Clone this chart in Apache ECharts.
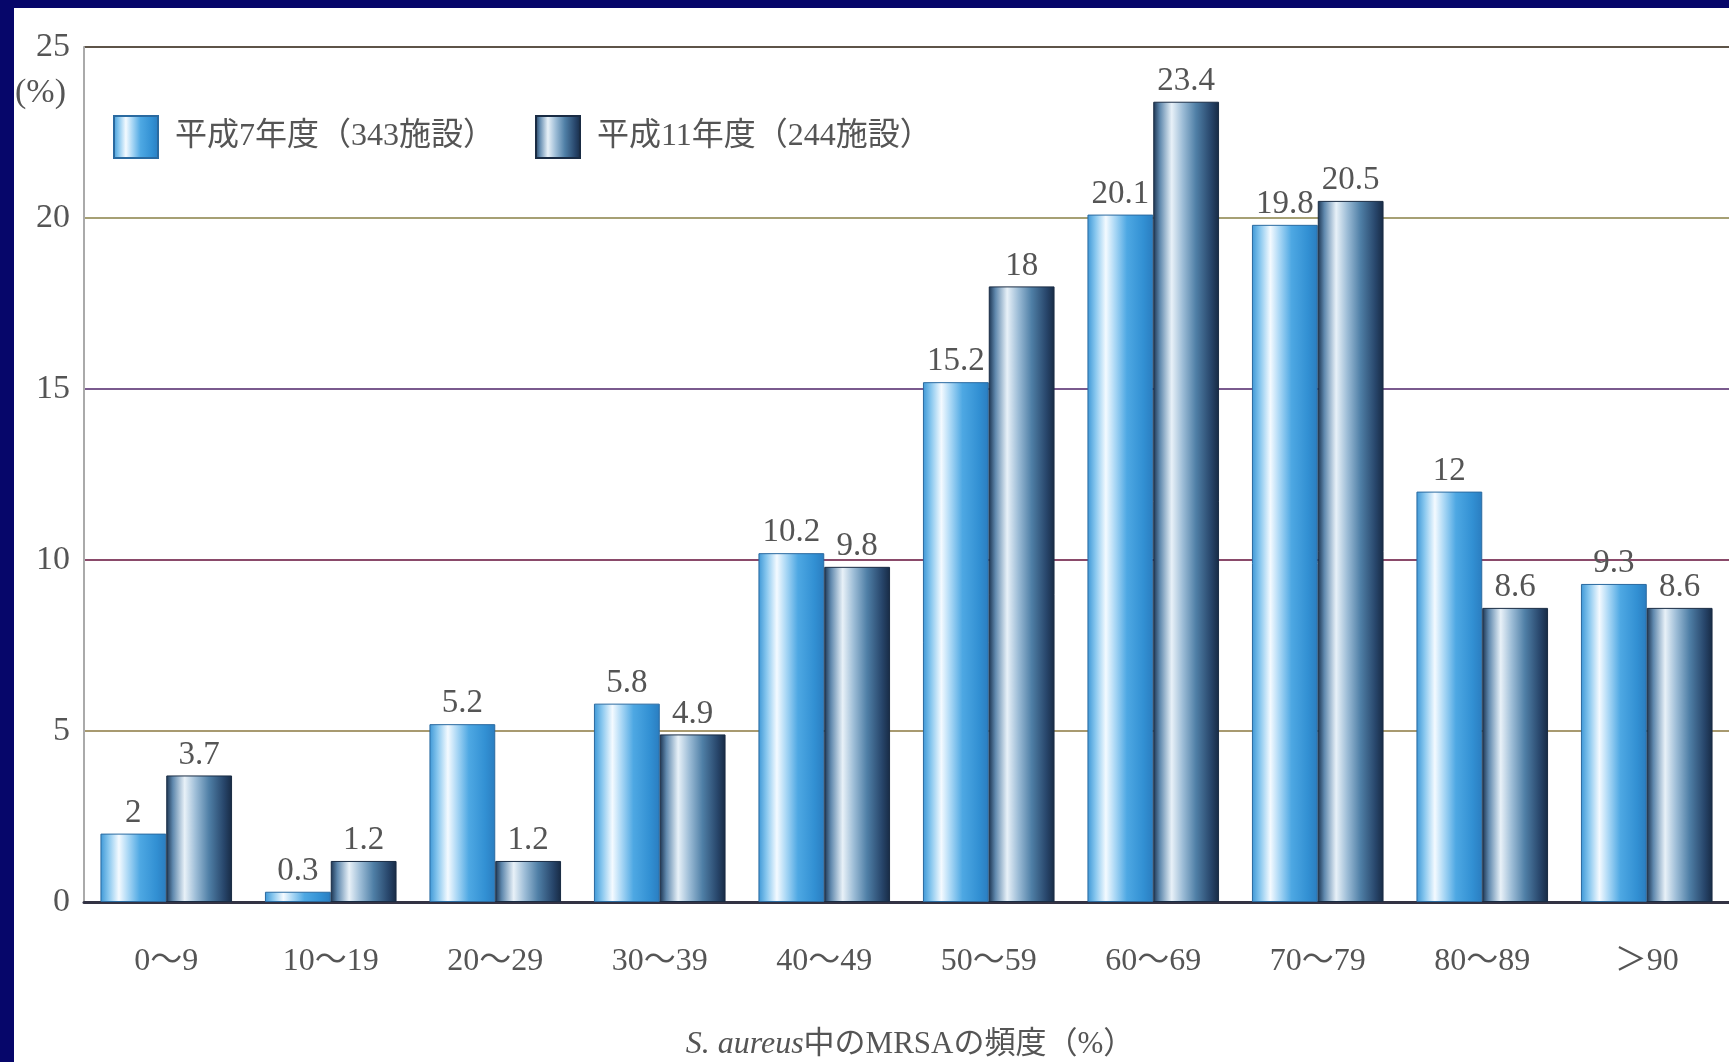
<!DOCTYPE html>
<html>
<head>
<meta charset="utf-8">
<script src="https://cdn.jsdelivr.net/npm/echarts@6/dist/echarts.min.js"></script>
<style>
  html, body { margin: 0; padding: 0; width: 1729px; height: 1062px; overflow: hidden; background: #06066a; }
  #chart { position: absolute; left: 14px; top: 8px; width: 1715px; height: 1054px; background: #ffffff; }
</style>
</head>
<body>
<div id="chart"></div>
<script>
// MRSA share among S. aureus isolates, by facility band
const categories = ['0～9', '10～19', '20～29', '30～39', '40～49', '50～59', '60～69', '70～79', '80～89', '＞90'];
const seriesNames = ['平成7年度（343施設）', '平成11年度（244施設）'];
const h7Values = [2, 0.3, 5.2, 5.8, 10.2, 15.2, 20.1, 19.8, 12, 9.3];
const h11Values = [3.7, 1.2, 1.2, 4.9, 9.8, 18, 23.4, 20.5, 8.6, 8.6];
const yTicks = { min: 0, max: 25, interval: 5 };

const serif = '"Liberation Serif", "DejaVu Serif", "Noto Sans CJK JP", serif';
const jp = '"Liberation Serif", "Noto Sans CJK JP", serif';

// cylinder-like shading across each bar
const lightBlue = new echarts.graphic.LinearGradient(0, 0, 1, 0, [
  { offset: 0, color: '#3d97d6' },
  { offset: 0.12, color: '#86c6ee' },
  { offset: 0.28, color: '#f4faff' },
  { offset: 0.42, color: '#a9d7f5' },
  { offset: 0.6, color: '#4ea8e3' },
  { offset: 0.85, color: '#3290d3' },
  { offset: 1, color: '#2a7dc0' }
]);
const steelBlue = new echarts.graphic.LinearGradient(0, 0, 1, 0, [
  { offset: 0, color: '#1b3350' },
  { offset: 0.1, color: '#5f88ad' },
  { offset: 0.28, color: '#e8f1f8' },
  { offset: 0.45, color: '#9cbcd6' },
  { offset: 0.65, color: '#4f7fa6' },
  { offset: 0.88, color: '#27456a' },
  { offset: 1, color: '#172a44' }
]);

const valueLabel = {
  show: true,
  position: 'top',
  distance: 4,
  fontFamily: serif,
  fontSize: 33,
  color: '#555555'
};

const chart = echarts.init(document.getElementById('chart'));
chart.setOption({
  animation: false,
  grid: { left: 70, right: -4, top: 39, bottom: 160 },
  legend: {
    left: 94,
    top: 102,
    itemWidth: 44,
    itemHeight: 42,
    itemGap: 40,
    icon: 'rect',
    textStyle: { fontFamily: jp, fontSize: 32, color: '#555555', padding: [0, 0, 0, 12] },
    data: seriesNames
  },
  xAxis: {
    type: 'category',
    data: categories,
    axisLine: { lineStyle: { color: '#333344', width: 3 } },
    axisTick: { show: false },
    axisLabel: { margin: 44, fontFamily: jp, fontSize: 32, color: '#555555' }
  },
  yAxis: {
    type: 'value',
    min: yTicks.min,
    max: yTicks.max,
    interval: yTicks.interval,
    axisLine: { show: true, lineStyle: { color: '#aaaaaa', width: 2 } },
    axisTick: { show: false },
    axisLabel: { margin: 14, fontFamily: serif, fontSize: 34, color: '#555555' },
    splitLine: {
      lineStyle: {
        width: 2,
        color: ['#999999', '#a89a70', '#8a4a6a', '#7a5a8e', '#a6a074', '#5e5448']
      }
    }
  },
  series: [
    {
      name: seriesNames[0],
      type: 'bar',
      data: h7Values,
      barWidth: '40%',
      barGap: '0%',
      itemStyle: { color: lightBlue, borderColor: '#2a6aa0', borderWidth: 1 },
      label: valueLabel
    },
    {
      name: seriesNames[1],
      type: 'bar',
      data: h11Values,
      barWidth: '40%',
      barGap: '0%',
      itemStyle: { color: steelBlue, borderColor: '#1a2c44', borderWidth: 1 },
      label: valueLabel
    }
  ],
  graphic: [
    {
      type: 'text',
      left: 1,
      top: 68,
      style: { text: '(%)', fontFamily: serif, fontSize: 34, fill: '#555555' }
    },
    {
      type: 'text',
      x: 896,
      y: 1037,
      style: {
        text: '{i|S. aureus}{n|中のMRSAの頻度（%）}',
        align: 'center',
        verticalAlign: 'middle',
        rich: {
          i: { fontFamily: serif, fontStyle: 'italic', fontSize: 32, fill: '#555555' },
          n: { fontFamily: jp, fontSize: 31, fill: '#555555' }
        }
      }
    }
  ]
});
</script>
</body>
</html>
